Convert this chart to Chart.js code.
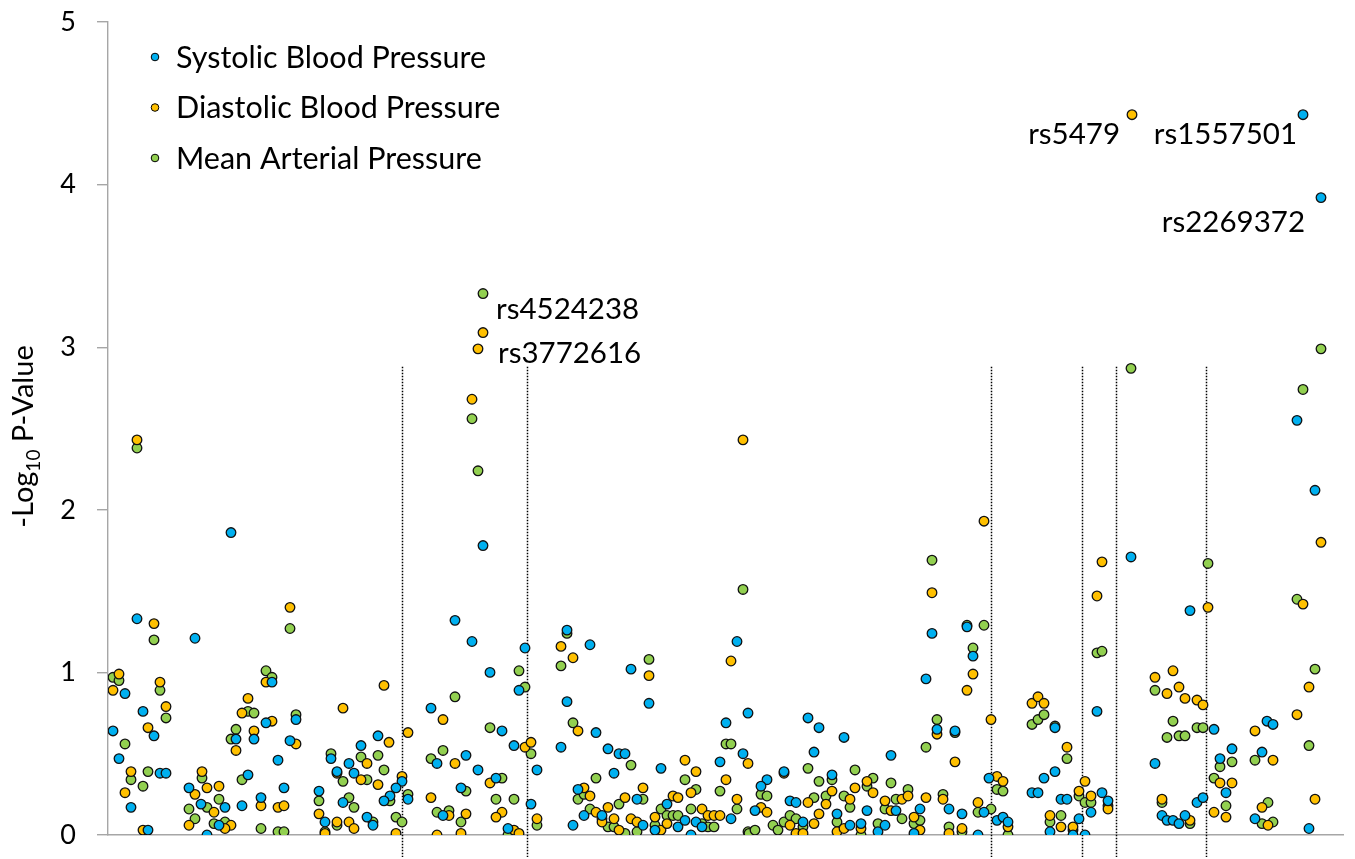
<!DOCTYPE html>
<html lang="en">
<head>
<meta charset="UTF-8">
<title>-Log10 P-Value by SNP</title>
<script src="https://cdn.jsdelivr.net/npm/chart.js"></script>
<style>
  html, body { margin: 0; padding: 0; background: #fff; }
  #wrap { width: 1355px; height: 859px; position: relative; }
</style>
</head>
<body>
<div id="wrap"><canvas id="chart"></canvas></div>
<script>
// SNP position (plot order) and -log10 p for each trait
const sbpPos = [37,131,95,25,43,13,54,19,60,66,31,48,172,196,136,154,166,190,178,89,101,125,107,119,148,142,161,184,219,225,
  383,355,372,425,390,419,331,402,278,414,231,261,249,237,254,337,366,378,396,302,296,290,284,308,243,267,273,343,361,408,431,437,
  467,490,531,549,637,648,467,496,461,508,519,525,514,626,643,620,561,478,484,473,502,537,543,555,567,578,585,591,596,602,631,
  832,826,837,855,708,719,744,714,791,684,667,661,655,732,690,696,737,767,796,820,814,849,703,750,761,778,785,
  867,873,862,884,878,889,897,903,908,955,944,955,932,938,961,967,950,973,979,985,991,997,1002,1008,1031,
  1203,1221,1197,1215,1090,1209,1114,1055,1062,1067,1073,1079,1085,1097,1103,1132,1120,1126,1167,1173,1162,1155];
const sbpVal = [1.33,1.86,1.21,0.87,0.76,0.64,0.61,0.47,0.38,0.38,0.17,0.03,0.94,0.71,0.59,0.59,0.69,0.58,0.46,0.29,0.19,0.17,0.00,0.06,0.37,0.18,0.23,0.29,0.27,0.08,
  1.78,1.32,1.19,1.15,1.00,0.89,0.78,0.64,0.61,0.55,0.47,0.55,0.44,0.39,0.38,0.44,0.49,0.40,0.35,0.33,0.29,0.24,0.21,0.22,0.20,0.11,0.06,0.12,0.29,0.04,0.19,0.40,
  1.26,1.17,1.02,0.81,1.19,0.75,0.82,0.63,0.54,0.53,0.50,0.50,0.38,0.69,0.50,0.45,0.41,0.28,0.12,0.06,0.12,0.22,0.06,0.03,0.19,0.05,0.09,0.00,0.08,0.05,0.10,
  1.24,0.96,0.65,0.64,0.72,0.66,0.60,0.51,0.49,0.39,0.34,0.30,0.15,0.37,0.21,0.20,0.13,0.15,0.15,0.16,0.01,0.16,0.08,0.06,0.07,0.02,0.06,
  1.28,1.10,0.13,0.14,0.00,0.35,0.09,0.11,0.08,0.66,0.35,0.39,0.26,0.26,0.22,0.22,0.02,0.00,0.10,0.00,0.14,0.76,0.26,0.21,1.71,
  4.43,3.92,2.55,2.12,1.38,0.04,0.65,0.44,0.12,0.09,0.09,0.07,0.12,0.20,0.23,0.53,0.47,0.26,0.70,0.68,0.51,0.10];

const dbpPos = [37,54,190,19,13,60,66,48,31,25,43,166,148,142,136,154,172,196,102,95,107,119,114,89,131,125,161,178,184,225,219,
  383,378,372,284,243,343,308,289,425,431,267,237,261,278,355,390,302,237,249,254,296,331,349,337,366,361,402,396,414,419,437,
  643,461,473,549,631,478,626,585,596,591,543,484,490,496,502,508,514,519,525,531,537,555,561,567,573,578,602,608,614,620,637,648,
  832,837,855,684,661,667,732,726,708,719,750,755,767,773,785,791,802,808,826,814,820,843,849,690,696,703,714,737,744,761,
  884,873,867,891,878,897,903,908,862,932,938,944,967,950,961,973,979,985,991,1002,997,1008,1032,
  1221,1108,1203,1209,1197,1215,1055,1073,1067,1079,1085,1097,1103,1062,1090,1120,1132,1114,1126,1155,1173,1162,1168];
const dbpVal = [2.43,1.30,1.40,0.99,0.89,0.94,0.79,0.66,0.39,0.26,0.03,0.94,0.84,0.75,0.52,0.64,0.70,0.56,0.39,0.25,0.29,0.30,0.14,0.06,0.06,0.04,0.18,0.17,0.18,0.01,0.13,
  3.09,2.99,2.68,0.92,0.78,0.71,0.63,0.57,0.54,0.57,0.44,0.38,0.34,0.31,0.44,0.32,0.36,0.08,0.08,0.04,0.01,0.23,0.12,0.00,0.13,0.01,0.14,0.11,0.03,0.01,0.10,
  2.43,1.16,1.09,0.98,1.07,0.64,0.34,0.46,0.39,0.26,0.29,0.29,0.24,0.14,0.08,0.17,0.10,0.03,0.23,0.10,0.08,0.11,0.03,0.07,0.24,0.23,0.16,0.12,0.12,0.12,0.22,0.44,
  1.49,0.62,0.45,0.38,0.17,0.14,0.27,0.19,0.20,0.13,0.22,0.29,0.33,0.26,0.21,0.15,0.22,0.24,0.23,0.11,0.03,0.22,0.01,0.06,0.01,0.01,0.07,0.02,0.04,0.04,
  1.93,0.99,0.89,0.71,0.20,0.36,0.33,0.05,0.04,0.81,0.85,0.81,0.54,0.12,0.05,0.05,0.27,0.33,0.24,1.68,1.47,0.16,4.43,
  1.80,1.40,1.42,0.91,0.74,0.22,0.97,1.01,0.87,0.91,0.84,0.83,0.80,0.22,0.09,0.32,0.32,0.14,0.11,0.64,0.46,0.17,0.06];

const mapPos = [37,54,190,13,19,60,66,25,31,48,43,166,172,148,154,196,136,131,102,119,107,89,95,114,125,142,161,178,184,219,225,
  383,372,378,419,425,355,390,431,231,261,278,243,267,284,331,343,402,290,308,249,254,237,273,296,302,337,349,366,361,396,414,408,437,
  643,467,461,549,473,626,631,531,496,585,596,620,478,484,490,502,508,514,525,519,543,537,555,561,567,573,578,591,602,608,614,637,648,
  832,837,855,826,708,755,661,667,719,732,726,714,744,750,767,773,791,785,796,808,802,814,820,843,849,649,655,673,678,684,690,696,703,737,761,778,
  867,884,873,878,891,897,903,908,862,932,938,944,955,967,950,961,973,979,985,991,997,1002,1008,1031,
  1221,1203,1108,1197,1215,1209,1055,1073,1067,1079,1085,1097,1103,1062,1090,1120,1132,1114,1126,1155,1168,1162,1173];
const mapVal = [2.38,1.20,1.27,0.97,0.95,0.89,0.72,0.56,0.34,0.39,0.30,1.01,0.97,0.76,0.75,0.74,0.65,0.59,0.35,0.22,0.17,0.16,0.10,0.07,0.08,0.34,0.04,0.02,0.02,0.21,0.02,
  3.33,2.56,2.24,1.01,0.91,0.85,0.66,0.50,0.50,0.48,0.49,0.33,0.34,0.40,0.47,0.52,0.35,0.21,0.25,0.23,0.17,0.06,0.08,0.11,0.08,0.14,0.15,0.27,0.08,0.22,0.22,0.00,0.06,
  1.51,1.24,1.04,1.08,0.69,0.56,0.56,0.43,0.35,0.34,0.28,0.27,0.22,0.25,0.16,0.10,0.05,0.05,0.01,0.19,0.22,0.02,0.06,0.16,0.12,0.12,0.12,0.16,0.07,0.05,0.05,0.16,0.02,
  1.69,0.71,0.63,0.54,0.41,0.40,0.25,0.24,0.33,0.34,0.24,0.23,0.24,0.17,0.30,0.35,0.32,0.16,0.22,0.28,0.10,0.07,0.09,0.25,0.05,0.01,0.03,0.06,0.03,0.08,0.12,0.10,0.05,0.08,0.00,0.07,
  1.29,1.29,1.15,0.14,0.16,0.28,0.27,0.00,0.02,0.68,0.71,0.74,0.67,0.47,0.08,0.12,0.03,0.24,0.20,0.20,1.12,1.13,0.18,2.87,
  2.99,2.74,1.67,1.45,1.02,0.55,0.89,0.70,0.60,0.61,0.61,0.66,0.66,0.20,0.07,0.42,0.45,0.35,0.18,0.46,0.20,0.07,0.08];

const seriesNames = ['Systolic Blood Pressure', 'Diastolic Blood Pressure', 'Mean Arterial Pressure'];
const seriesColors = ['#00B0F0', '#FFC000', '#92D050'];

// chromosome / gene boundaries (dotted lines)
const regionBreaks = [302, 427, 891, 982, 1016, 1106];
const breakTop = 2.88;

// labelled SNPs
const snpNames = ['rs4524238', 'rs3772616', 'rs5479', 'rs1557501', 'rs2269372'];
const snpNamePos = [396, 398, 1020, 1197, 1205];
const snpNameVal = [3.23, 2.96, 4.31, 4.31, 3.77];
const snpNameAlign = ['left', 'left', 'right', 'right', 'right'];

const yTicks = [0, 1, 2, 3, 4, 5];

const FONT = 'Lato, "Open Sans", sans-serif';

function toPoints(pos, val) {
  return pos.map((x, i) => ({ x: x, y: val[i] }));
}

const dividerPlugin = {
  id: 'dividers',
  beforeDatasetsDraw(chart) {
    const { ctx, scales: { x, y }, chartArea } = chart;
    ctx.save();
    ctx.strokeStyle = '#000';
    ctx.lineWidth = 1.5;
    ctx.setLineDash([1.5, 1.5]);
    regionBreaks.forEach(b => {
      const px = Math.round(x.getPixelForValue(b)) + 0.5;
      ctx.beginPath();
      ctx.moveTo(px, y.getPixelForValue(breakTop));
      ctx.lineTo(px, chartArea.bottom + 22);
      ctx.stroke();
    });
    ctx.restore();
  }
};

const textPlugin = {
  id: 'texts',
  afterDraw(chart) {
    const { ctx, scales: { x, y }, chartArea } = chart;
    ctx.save();

    // snp labels
    ctx.fillStyle = '#000';
    ctx.font = '29.5px ' + FONT;
    ctx.textBaseline = 'middle';
    snpNames.forEach((s, i) => {
      ctx.textAlign = snpNameAlign[i];
      ctx.fillText(s, x.getPixelForValue(snpNamePos[i]), y.getPixelForValue(snpNameVal[i]));
    });

    // legend
    ctx.textAlign = 'left';
    ctx.font = '30.5px ' + FONT;
    seriesNames.forEach((s, i) => {
      const cy = 57 + i * 50.5;
      ctx.beginPath();
      ctx.arc(155, cy, 3.8, 0, Math.PI * 2);
      ctx.fillStyle = seriesColors[i];
      ctx.fill();
      ctx.lineWidth = 1;
      ctx.strokeStyle = '#000';
      ctx.stroke();
      ctx.fillStyle = '#000';
      ctx.fillText(s, 176, cy + 1);
    });

    // y axis title with subscript
    const main1 = '-Log', sub = '10', main2 = ' P-Value';
    const bigF = '29px ' + FONT, smallF = '19px ' + FONT;
    ctx.font = bigF;
    const w1 = ctx.measureText(main1).width, w3 = ctx.measureText(main2).width;
    ctx.font = smallF;
    const w2 = ctx.measureText(sub).width;
    const total = w1 + w2 + w3;
    ctx.translate(33, (chartArea.top + chartArea.bottom) / 2 + 8);
    ctx.rotate(-Math.PI / 2);
    ctx.textBaseline = 'alphabetic';
    ctx.textAlign = 'left';
    let cx = -total / 2;
    ctx.font = bigF;
    ctx.fillText(main1, cx, 0);
    cx += w1;
    ctx.font = smallF;
    ctx.fillText(sub, cx, 7);
    cx += w2;
    ctx.font = bigF;
    ctx.fillText(main2, cx, 0);
    ctx.restore();
  }
};

const pointStyle = (i) => ({
  backgroundColor: seriesColors[i],
  borderColor: '#111',
  borderWidth: 1.3,
  pointRadius: 4.8,
  pointHoverRadius: 4.8
});

new Chart(document.getElementById('chart'), {
  type: 'scatter',
  data: {
    datasets: [
      { label: seriesNames[0], data: toPoints(sbpPos, sbpVal), ...pointStyle(0) },
      { label: seriesNames[1], data: toPoints(dbpPos, dbpVal), ...pointStyle(1) },
      { label: seriesNames[2], data: toPoints(mapPos, mapVal), ...pointStyle(2) }
    ]
  },
  options: {
    responsive: true,
    maintainAspectRatio: false,
    animation: false,
    events: [],
    layout: { padding: { top: 22, right: 12, bottom: 0, left: 0 } },
    plugins: { legend: { display: false }, tooltip: { enabled: false } },
    scales: {
      x: {
        type: 'linear',
        min: 8,
        max: 1243,
        ticks: { display: false },
        grid: { display: false },
        border: { display: true, color: '#a6a6a6', width: 1.4 },
        afterFit(scale) { scale.height = 24; }
      },
      y: {
        min: 0,
        max: 5,
        afterBuildTicks(scale) { scale.ticks = yTicks.map(v => ({ value: v })); },
        ticks: { color: '#000', font: { family: FONT, size: 27 }, padding: 21 },
        grid: { display: true, drawOnChartArea: false, drawTicks: true, tickLength: 11, color: '#a6a6a6', lineWidth: 1.4 },
        border: { display: true, color: '#a6a6a6', width: 1.4 },
        afterFit(scale) {
          scale.width = 108;
          scale.paddingTop = 0;
          scale.paddingBottom = 0;
        }
      }
    }
  },
  plugins: [dividerPlugin, textPlugin]
});
</script>
</body>
</html>
